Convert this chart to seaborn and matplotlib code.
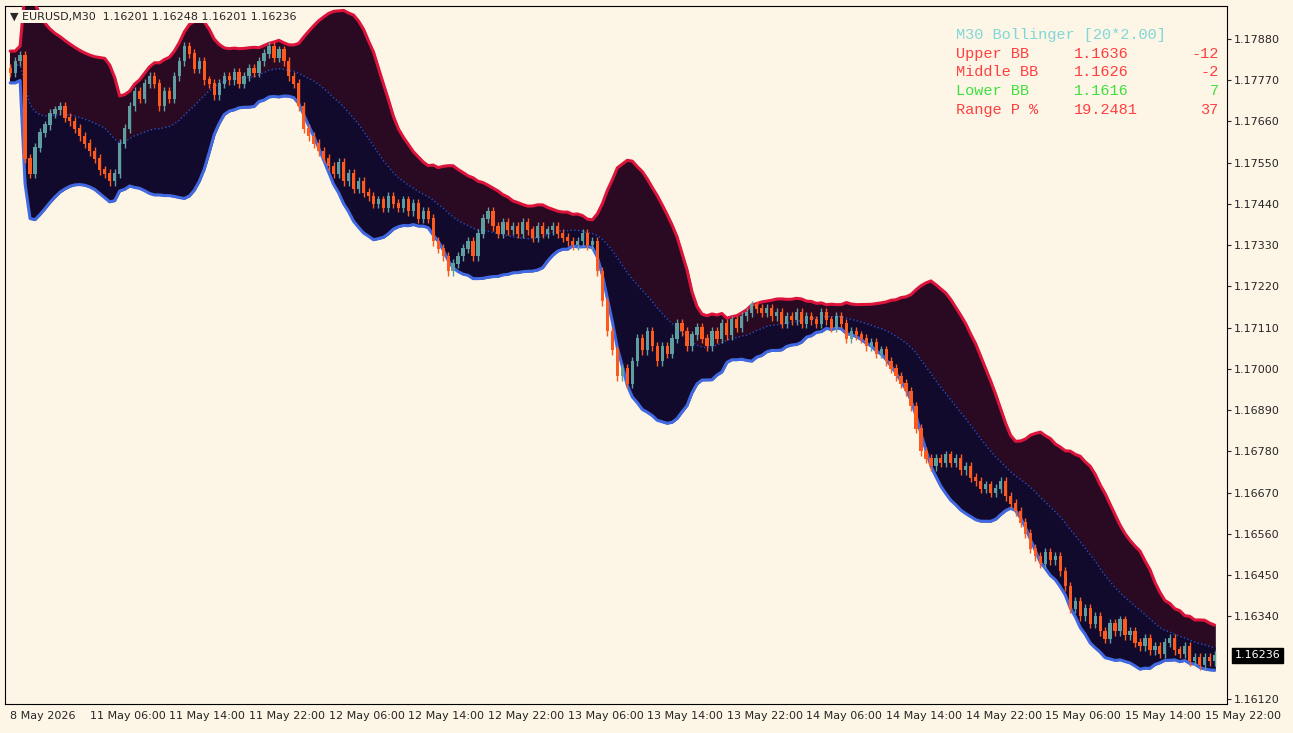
import numpy as np
import pandas as pd
import matplotlib
matplotlib.use("Agg")
import matplotlib.pyplot as plt
import seaborn as sns

# M30 closes
closes = [
    1.17790, 1.17820, 1.17835, 1.17560, 1.17520, 1.17590, 1.17630, 1.17650, 1.17680, 1.17690,
    1.17700, 1.17670, 1.17660, 1.17640, 1.17620, 1.17600, 1.17580, 1.17560, 1.17530, 1.17520,
    1.17500, 1.17520, 1.17600, 1.17640, 1.17700, 1.17740, 1.17720, 1.17760, 1.17780, 1.17760,
    1.17700, 1.17740, 1.17720, 1.17780, 1.17820, 1.17860, 1.17840, 1.17800, 1.17820, 1.17770,
    1.17760, 1.17730, 1.17760, 1.17780, 1.17770, 1.17790, 1.17760, 1.17780, 1.17800, 1.17790,
    1.17820, 1.17840, 1.17860, 1.17830, 1.17850, 1.17820, 1.17780, 1.17760, 1.17700, 1.17640,
    1.17620, 1.17600, 1.17580, 1.17560, 1.17540, 1.17520, 1.17550, 1.17500, 1.17520, 1.17480,
    1.17500, 1.17470, 1.17460, 1.17440, 1.17450, 1.17430, 1.17460, 1.17440, 1.17430, 1.17450,
    1.17420, 1.17440, 1.17400, 1.17420, 1.17400, 1.17340, 1.17320, 1.17300, 1.17260, 1.17280,
    1.17300, 1.17320, 1.17340, 1.17300, 1.17360, 1.17400, 1.17420, 1.17380, 1.17360, 1.17390,
    1.17370, 1.17380, 1.17360, 1.17390, 1.17370, 1.17350, 1.17380, 1.17360, 1.17370, 1.17380,
    1.17360, 1.17350, 1.17340, 1.17330, 1.17340, 1.17360, 1.17330, 1.17340, 1.17260, 1.17180,
    1.17100, 1.17050, 1.16980, 1.17000, 1.16960, 1.17020, 1.17080, 1.17050, 1.17100, 1.17060,
    1.17020, 1.17060, 1.17040, 1.17080, 1.17120, 1.17100, 1.17060, 1.17090, 1.17110, 1.17080,
    1.17060, 1.17100, 1.17080, 1.17120, 1.17090, 1.17130, 1.17110, 1.17140, 1.17150, 1.17170,
    1.17160, 1.17150, 1.17160, 1.17140, 1.17150, 1.17120, 1.17140, 1.17130, 1.17150, 1.17120,
    1.17140, 1.17130, 1.17120, 1.17150, 1.17130, 1.17110, 1.17140, 1.17120, 1.17080, 1.17100,
    1.17090, 1.17080, 1.17060, 1.17070, 1.17040, 1.17050, 1.17020, 1.17000, 1.16980, 1.16960,
    1.16940, 1.16900, 1.16840, 1.16780, 1.16760, 1.16740, 1.16760, 1.16750, 1.16770, 1.16750,
    1.16760, 1.16730, 1.16740, 1.16710, 1.16700, 1.16680, 1.16690, 1.16670, 1.16680, 1.16700,
    1.16660, 1.16640, 1.16620, 1.16590, 1.16560, 1.16520, 1.16500, 1.16480, 1.16510, 1.16490,
    1.16500, 1.16460, 1.16420, 1.16360, 1.16380, 1.16340, 1.16360, 1.16320, 1.16340, 1.16300,
    1.16280, 1.16320, 1.16300, 1.16330, 1.16290, 1.16300, 1.16270, 1.16260, 1.16280, 1.16250,
    1.16260, 1.16240, 1.16270, 1.16280, 1.16250, 1.16240, 1.16260, 1.16220, 1.16230, 1.16210,
    1.16230, 1.16220, 1.16236,
]
first_open = 1.17800
price_ticks = [1.17880, 1.17770, 1.17660, 1.17550, 1.17440, 1.17330, 1.17220, 1.17110,
               1.17000, 1.16890, 1.16780, 1.16670, 1.16560, 1.16450, 1.16340, 1.16120]
date_labels = ["8 May 2026", "11 May 06:00", "11 May 14:00", "11 May 22:00", "12 May 06:00",
               "12 May 14:00", "12 May 22:00", "13 May 06:00", "13 May 14:00", "13 May 22:00",
               "14 May 06:00", "14 May 14:00", "14 May 22:00", "15 May 06:00", "15 May 14:00",
               "15 May 22:00"]

c = np.array(closes)
o = np.concatenate([[first_open], c[:-1]])
n = len(c)
x = np.arange(n)
s = pd.Series(c)
mid = s.rolling(20, min_periods=2).mean().bfill()
sd = s.rolling(20, min_periods=2).std().bfill()
up = mid + 2 * sd
lo = mid - 2 * sd
df = pd.DataFrame({"x": x, "mid": mid, "up": up, "lo": lo})

sns.set_style("white")
plt.rcParams["font.family"] = ["DejaVu Sans"]
bg = "#FDF5E6"
fig = plt.figure(figsize=(12.93, 7.33), dpi=100, facecolor=bg)
ax = fig.add_axes([0.004, 0.04, 0.945, 0.952], facecolor=bg)

ax.fill_between(x, mid, up, color="#2A0A22", zorder=1)
ax.fill_between(x, lo, mid, color="#120A2C", zorder=1)
sns.lineplot(data=df, x="x", y="up", color="#DC143C", lw=2.2, ax=ax, zorder=3)
sns.lineplot(data=df, x="x", y="lo", color="#4169E1", lw=2.2, ax=ax, zorder=3)
sns.lineplot(data=df, x="x", y="mid", color="#2A4FC0", lw=1, ls=":", ax=ax, zorder=3)

bull = c >= o
col = np.where(bull, "#5F9EA0", "#FF5A1E")
hi = np.maximum(o, c) + 0.00012
low = np.minimum(o, c) - 0.00012
ax.vlines(x, low, hi, colors=col, lw=1, zorder=4)
ax.bar(x, np.abs(c - o) + 0.00002, bottom=np.minimum(o, c), width=0.65, color=col,
       edgecolor=col, linewidth=0, zorder=5)

ax.set_xlim(-1, n + 1.5)
ax.set_ylim(1.16107, 1.17968)
ax.yaxis.tick_right()
ax.set_yticks(price_ticks)
ax.set_yticklabels([f"{p:.5f}" for p in price_ticks], fontsize=8)
ax.set_xticks(np.arange(0, 16 * len(date_labels), 16))
ax.set_xticklabels(date_labels, fontsize=8, ha="left")
ax.tick_params(length=3, pad=2)
ax.set_xlabel("")
ax.set_ylabel("")
for sp in ax.spines.values():
    sp.set_color("black")
    sp.set_linewidth(0.8)

ax.text(1.006, 1.16236, "1.16236", transform=ax.get_yaxis_transform(), fontsize=8,
        color="white", va="center", ha="left", bbox=dict(fc="black", ec="black", pad=2), clip_on=False)

ax.text(0.004, 0.985, "▼ EURUSD,M30  1.16201 1.16248 1.16201 1.16236", transform=ax.transAxes,
        fontsize=8, va="center", zorder=6, bbox=dict(fc=bg, ec="none", pad=1))

mono = "Liberation Mono"
ax.text(0.778, 0.953, "M30 Bollinger [20*2.00]", transform=ax.transAxes, fontsize=11,
        color="#7FD8D8", family=mono)
rows = [("Upper BB", "1.1636", "-12", "#FF4040"),
        ("Middle BB", "1.1626", "-2", "#FF4040"),
        ("Lower BB", "1.1616", "7", "#40E040"),
        ("Range P %", "19.2481", "37", "#FF4040")]
for k, (a, b, d, cl) in enumerate(rows):
    yy = 0.926 - k * 0.027
    ax.text(0.778, yy, a, transform=ax.transAxes, fontsize=11, color=cl, family=mono)
    ax.text(0.875, yy, b, transform=ax.transAxes, fontsize=11, color=cl, family=mono)
    ax.text(0.993, yy, d, transform=ax.transAxes, fontsize=11, color=cl, family=mono, ha="right")

fig.savefig("out.png", dpi=100, facecolor=bg)
